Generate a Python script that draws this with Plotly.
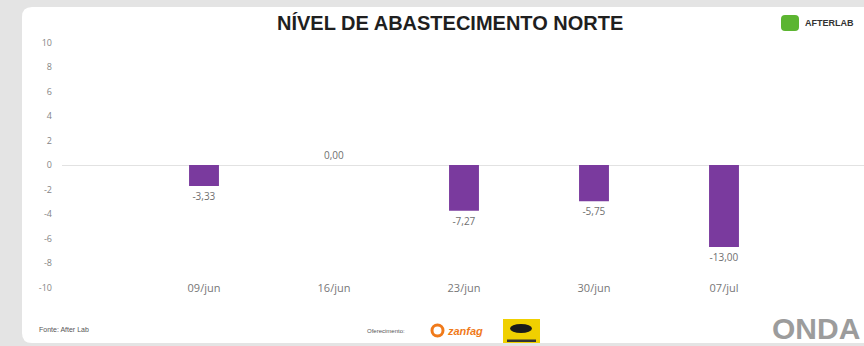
import plotly.graph_objects as go

# ---- data ----
categories = ["09/jun", "16/jun", "23/jun", "30/jun", "07/jul"]
values = [-3.33, 0.00, -7.27, -5.75, -13.00]
value_labels = [f"{v:.2f}".replace(".", ",") for v in values]
y_tick_vals = [10, 8, 6, 4, 2, 0, -2, -4, -6, -8, -10]
y_tick_text = [str(v) for v in y_tick_vals]

# ---- layout geometry (pixels) ----
W, H = 864, 346
L, R, T, B = 62, 0, 30, 46
PW, PH = W - L - R, H - T - B


def px(x):
    return (x - L) / PW


def py(y):
    return (H - B - y) / PH


def rrect(x0, y0, x1, y1, r):
    # rounded rectangle path in paper coords, given pixel coords
    pts = [
        f"M {px(x0 + r)} {py(y0)}",
        f"L {px(x1 - r)} {py(y0)}",
        f"Q {px(x1)} {py(y0)} {px(x1)} {py(y0 + r)}",
        f"L {px(x1)} {py(y1 - r)}",
        f"Q {px(x1)} {py(y1)} {px(x1 - r)} {py(y1)}",
        f"L {px(x0 + r)} {py(y1)}",
        f"Q {px(x0)} {py(y1)} {px(x0)} {py(y1 - r)}",
        f"L {px(x0)} {py(y0 + r)}",
        f"Q {px(x0)} {py(y0)} {px(x0 + r)} {py(y0)}",
        "Z",
    ]
    return " ".join(pts)


fig = go.Figure()

# invisible trace to hold the visible left axis
fig.add_trace(go.Scatter(x=categories, y=[None] * len(categories), yaxis="y",
                         showlegend=False, hoverinfo="skip"))

fig.add_trace(go.Bar(
    x=categories, y=values, yaxis="y2",
    width=0.23,
    marker=dict(color="#7a3a9e", line=dict(width=0)),
    text=value_labels, textposition="outside",
    textfont=dict(family="Open Sans", size=10, color="#6f6f6f"),
    cliponaxis=False, showlegend=False,
))

primary_half = (165 - T) / 12.25
secondary_half = (165 - T) / 6.3

fig.update_layout(
    width=W, height=H,
    margin=dict(l=L, r=R, t=T, b=B, pad=0),
    paper_bgcolor="#e4e4e4",
    plot_bgcolor="rgba(0,0,0,0)",
    showlegend=False,
    xaxis=dict(
        type="category",
        range=[(L - 204) / 130, (W - 204) / 130],
        anchor="free", position=py(280),
        showgrid=False, showline=False, zeroline=False, ticks="",
        tickfont=dict(family="Open Sans", size=11, color="#777777"),
    ),
    yaxis=dict(
        range=[-primary_half, primary_half],
        tickvals=y_tick_vals, ticktext=y_tick_text,
        showgrid=False, showline=False,
        zeroline=True, zerolinecolor="#e2e2e2", zerolinewidth=1,
        ticks="", ticklabelstandoff=9,
        tickfont=dict(family="Open Sans", size=9, color="#858585"),
    ),
    yaxis2=dict(
        range=[-secondary_half, secondary_half],
        overlaying="y", visible=False, showgrid=False, zeroline=False,
    ),
    bargap=0.77,
)

shapes = [
    # white card
    dict(type="path", xref="paper", yref="paper", path=rrect(22, 7, 900, 343, 10),
         fillcolor="white", line=dict(width=0), layer="below"),
    # After Lab green icon
    dict(type="path", xref="paper", yref="paper", path=rrect(781, 15, 799, 31, 4),
         fillcolor="#5cb531", line=dict(width=0), layer="above"),
    # yellow sponsor logo
    dict(type="rect", xref="paper", yref="paper", x0=px(503), x1=px(540), y0=py(343), y1=py(319),
         fillcolor="#f0d000", line=dict(width=0)),
    dict(type="circle", xref="paper", yref="paper", x0=px(510), x1=px(532), y0=py(333), y1=py(324),
         fillcolor="#1a1a1a", line=dict(width=0)),
    dict(type="rect", xref="paper", yref="paper", x0=px(507), x1=px(536), y0=py(342), y1=py(339.5),
         fillcolor="#333333", line=dict(width=0)),
    # orange sponsor icon
    dict(type="circle", xref="paper", yref="paper", x0=px(432), x1=px(443), y0=py(336), y1=py(325),
         fillcolor="rgba(0,0,0,0)", line=dict(color="#f07a1a", width=3)),
]

annotations = [
    dict(text="<b>NÍVEL DE ABASTECIMENTO NORTE</b>", x=px(450), y=py(23), xref="paper", yref="paper",
         showarrow=False, font=dict(family="Liberation Sans", size=20, color="#1f1f1f"),
         xanchor="center", yanchor="middle"),
    dict(text="<b>AFTERLAB</b>", x=px(803), y=py(23), xref="paper", yref="paper",
         showarrow=False, font=dict(family="Liberation Sans", size=9, color="#333333"),
         xanchor="left", yanchor="middle"),
    dict(text="Fonte: After Lab", x=px(37), y=py(329), xref="paper", yref="paper",
         showarrow=False, font=dict(family="Liberation Sans", size=7, color="#555555"),
         xanchor="left", yanchor="middle"),
    dict(text="Oferecimento:", x=px(386), y=py(331), xref="paper", yref="paper",
         showarrow=False, font=dict(family="Liberation Sans", size=6, color="#555555"),
         xanchor="center", yanchor="middle"),
    dict(text="<b><i>zanfag</i></b>", x=px(445), y=py(331), xref="paper", yref="paper",
         showarrow=False, font=dict(family="Liberation Sans", size=11, color="#f07a1a"),
         xanchor="left", yanchor="middle"),
    dict(text="<b>ONDA</b>", x=px(862), y=py(328), xref="paper", yref="paper",
         showarrow=False, font=dict(family="Liberation Sans Narrow, Liberation Sans", size=30, color="#9c9c9c"),
         xanchor="right", yanchor="middle"),
]

fig.update_layout(shapes=shapes, annotations=annotations)

fig.write_html("out.html")
